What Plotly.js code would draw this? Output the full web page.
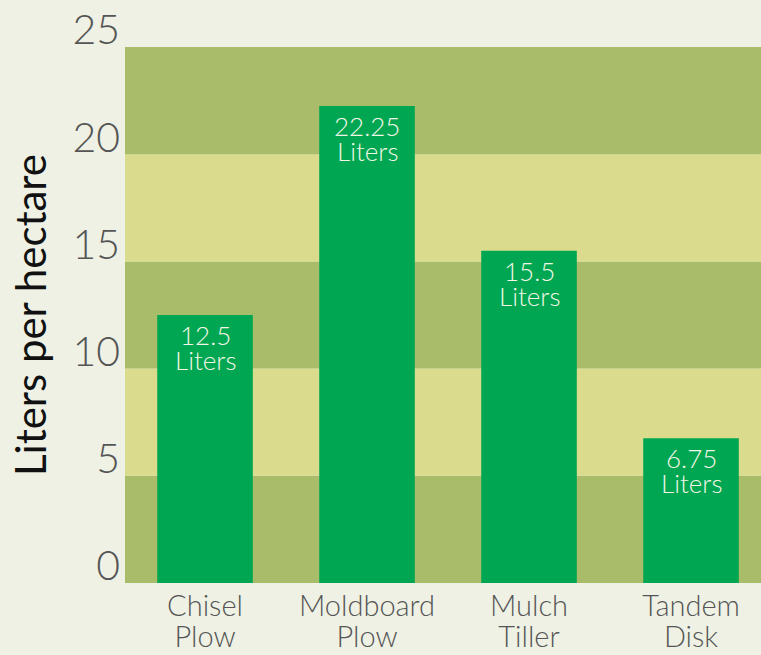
<!DOCTYPE html>
<html><head><meta charset="utf-8">
<script src="https://cdn.plot.ly/plotly-3.0.1.min.js"></script>
<style>html,body{margin:0;padding:0;background:#eef1e4;}</style>
</head><body>
<div id="chart" style="width:761px;height:655px;"></div>
<script>
const categories = ["Chisel Plow", "Moldboard Plow", "Mulch Tiller", "Tandem Disk"];
const values = [12.5, 22.25, 15.5, 6.75];
const valueLabels = ["12.5", "22.25", "15.5", "6.75"];
const unitLabel = "Liters";
const yTicks = [0, 5, 10, 15, 20, 25];

const positions = categories.map((c, i) => i);
const line1 = categories.map(c => c.split(" ")[0]);
const line2 = categories.map(c => c.split(" ").slice(1).join(" "));

const bandColors = ["#a8bc6a", "#dadb8c"];
const shapes = [];
for (let i = 0; i < yTicks.length - 1; i++) {
  shapes.push({type: "rect", xref: "paper", yref: "y", x0: 0, x1: 1,
    y0: yTicks[i], y1: yTicks[i + 1], fillcolor: bandColors[i % 2],
    line: {width: 0}, layer: "below"});
}

const FONT = "Lato, sans-serif";
const labelFont = {family: FONT, size: 26, color: "#f2f7e6", weight: 300};
const annotations = [];
positions.forEach((p, i) => {
  annotations.push({x: p, y: values[i], xref: "x", yref: "y", text: valueLabels[i],
    showarrow: false, yanchor: "middle", yshift: -20, font: labelFont});
  annotations.push({x: p, y: values[i], xref: "x", yref: "y", text: unitLabel,
    showarrow: false, yanchor: "middle", yshift: -45, font: labelFont});
});

const trace = {
  type: "bar", x: positions, y: values,
  marker: {color: "#00a651", line: {width: 0}},
  hoverinfo: "none"
};
const dummy = {type: "scatter", x: positions, y: values, xaxis: "x2", yaxis: "y",
  mode: "markers", marker: {opacity: 0}, hoverinfo: "none"};

const xRange = [-0.494, 3.432];
const layout = {
  width: 761, height: 655,
  margin: {l: 125, r: 0, t: 47, b: 72, pad: 0},
  paper_bgcolor: "#eef1e4", plot_bgcolor: "#eef1e4",
  showlegend: false, bargap: 0.41,
  shapes: shapes, annotations: annotations,
  font: {family: FONT, color: "#555"},
  xaxis: {range: xRange, tickvals: positions, ticktext: line1,
    showgrid: false, zeroline: false, showline: false, ticks: "",
    ticklabelstandoff: 3,
    tickfont: {size: 29, color: "#555", weight: 300}, fixedrange: true},
  xaxis2: {range: xRange, overlaying: "x", side: "bottom", tickvals: positions, ticktext: line2,
    showgrid: false, zeroline: false, showline: false, ticks: "",
    ticklabelstandoff: 34,
    tickfont: {size: 29, color: "#555", weight: 300}, fixedrange: true},
  yaxis: {range: [0, 25], tickvals: yTicks, showgrid: false, zeroline: false,
    showline: false, ticks: "", tickfont: {size: 41, color: "#555", weight: 300},
    ticklabelstandoff: 4, ticklabelshift: -17,
    title: {text: "Liters per hectare", font: {size: 42, color: "#111", weight: 400}, standoff: 12},
    fixedrange: true}
};

Plotly.newPlot("chart", [trace, dummy], layout, {displayModeBar: false, staticPlot: true});
</script>
</body></html>
